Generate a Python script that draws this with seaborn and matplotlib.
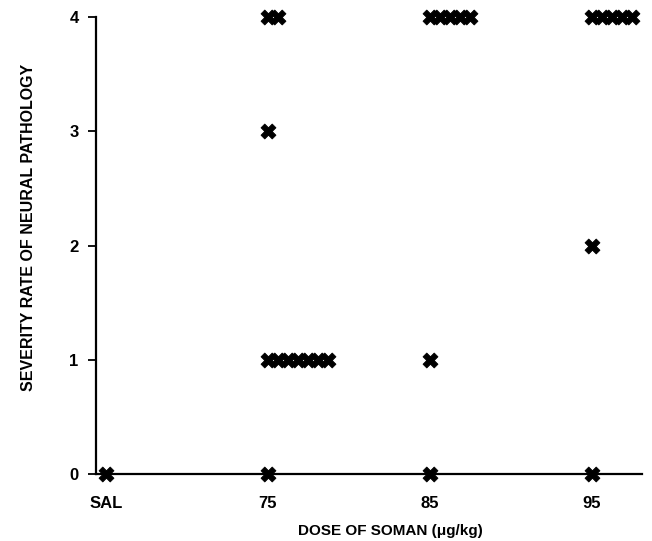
import numpy as np
import pandas as pd
import matplotlib
matplotlib.use("Agg")
import matplotlib.pyplot as plt
import seaborn as sns

# Data: dose group, severity rating, number of animals with that rating
dose_labels = ["SAL", "75", "85", "95"]
group = ["SAL", "75", "75", "75", "75", "85", "85", "85", "95", "95", "95"]
severity = [0, 0, 1, 3, 4, 0, 1, 4, 0, 2, 4]
count = [1, 1, 7, 1, 2, 1, 1, 5, 1, 1, 5]
y_ticks = [0, 1, 2, 3, 4]

STEP = 0.062  # horizontal spacing of stacked markers (layout)

rows = []
for g, s, c in zip(group, severity, count):
    base = dose_labels.index(g)
    for i in range(c):
        rows.append({"x": base + i * STEP, "y": s})
df = pd.DataFrame(rows)

sns.set_theme(style="white")
plt.rcParams["font.family"] = ["Liberation Sans", "DejaVu Sans"]
plt.rcParams["text.color"] = "black"
plt.rcParams["axes.labelcolor"] = "black"
plt.rcParams["xtick.color"] = "black"
plt.rcParams["ytick.color"] = "black"

fig = plt.figure(figsize=(6.52, 5.41), dpi=100)
ax = fig.add_axes([0.1472, 0.1238, 0.8375, 0.8448])

sns.scatterplot(data=df, x="x", y="y", marker="X", s=115, color="black",
                edgecolor="black", linewidth=0.6, ax=ax, clip_on=False, zorder=5)

ax.set_xlim(-0.062, 3.31)
ax.set_ylim(0, 4)
ax.set_xticks(range(len(dose_labels)))
ax.set_xticklabels(dose_labels, fontsize=12, fontweight="bold")
ax.set_yticks(y_ticks)
ax.set_yticklabels([str(t) for t in y_ticks], fontsize=12, fontweight="bold")

for side in ["top", "right"]:
    ax.spines[side].set_visible(False)
for side in ["left", "bottom"]:
    ax.spines[side].set_color("black")
    ax.spines[side].set_linewidth(1.6)

ax.tick_params(axis="y", direction="out", length=5.5, width=1.3, color="black", pad=7, left=True)
ax.tick_params(axis="x", length=0, pad=16)

ax.set_xlabel("DOSE OF SOMAN (\u03bcg/kg)", fontsize=11, fontweight="bold", labelpad=9)
ax.set_ylabel("SEVERITY RATE OF NEURAL PATHOLOGY", fontsize=11.5, fontweight="bold", labelpad=24)
ax.xaxis.label.set_x(0.54)
ax.yaxis.label.set_y(0.54)

fig.savefig("out.png", dpi=100)
